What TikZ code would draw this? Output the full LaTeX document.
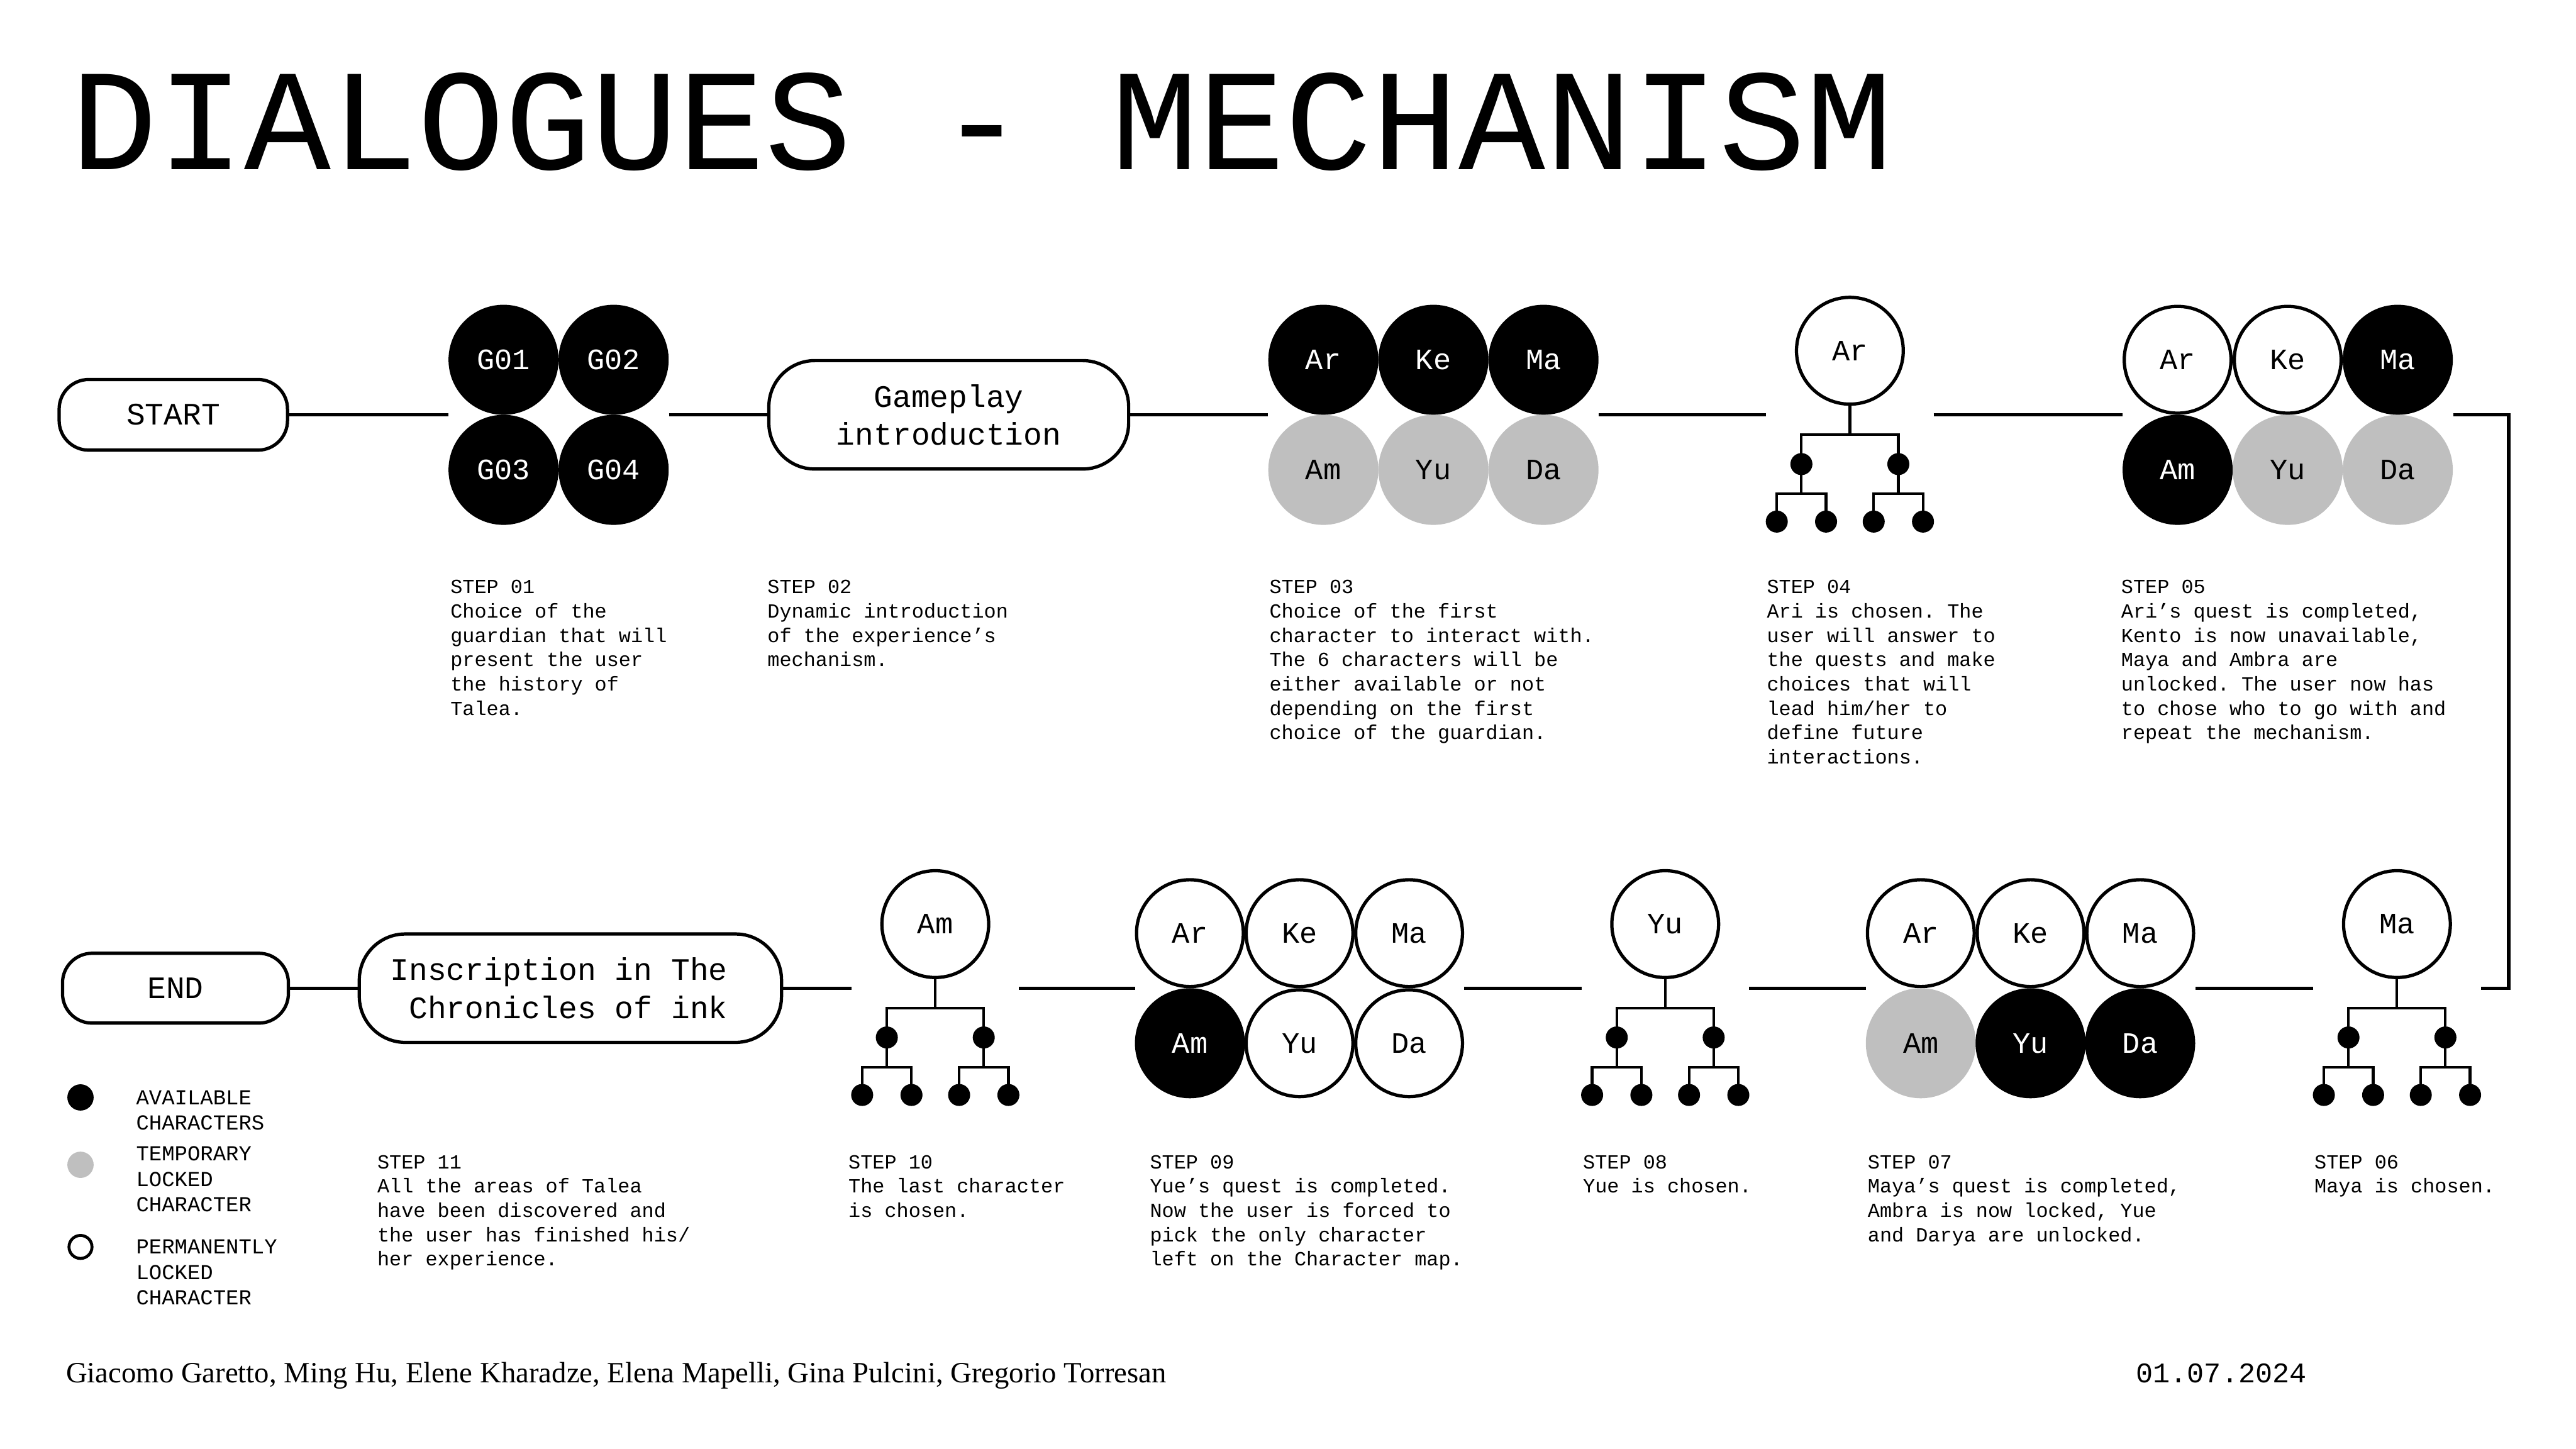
\documentclass[tikz,border=0pt]{standalone}
\usepackage{fontspec}
\setmainfont{Liberation Mono}
\newfontfamily\credfont{Liberation Serif}
\usetikzlibrary{calc}
\frenchspacing
\definecolor{lockgray}{RGB}{191,191,191}
\tikzset{
  conn/.style={line width=2pt,line join=miter},
  twig/.style={line width=1.6pt,line join=miter},
  pill/.style={draw,line width=2pt,align=center,inner sep=0pt,font=\fontsize{19}{23}\selectfont},
  chr/.style={circle,minimum size=67pt,inner sep=0pt,font=\fontsize{18}{18}\selectfont},
  avail/.style={chr,fill=black,text=white},
  temp/.style={chr,fill=lockgray},
  perm/.style={chr,draw,line width=2pt,fill=white,minimum size=65pt},
  steptxt/.style={anchor=north west,align=left,inner sep=0pt,font=\fontsize{12.2}{14.8}\selectfont},
  keytxt/.style={anchor=north west,align=left,inner sep=0pt,font=\fontsize{13}{15.6}\selectfont},
  keydot/.style={circle,inner sep=0pt,minimum size=16pt}
}
\newcommand{\qtree}[3]{%
  \node[perm] (#1) at (#2) {#3};
  \coordinate (#1w) at ($(#1)+(-51,39)$); \coordinate (#1e) at ($(#1)+(51,39)$);
  \draw[twig] (#1.south) -- ++(0,18);
  \draw[twig] ($(#1)+(-29.5,87)$) -- ++(0,-36) -- ++(59,0) -- ++(0,36);
  \foreach \s in {-29.5,29.5}{
    \draw[twig] ($(#1)+(\s-15,104)$) -- ++(0,-17) -- ++(30,0) -- ++(0,17);
    \fill ($(#1)+(\s,69)$) circle (6.7) ($(#1)+(\s-15,104)$) circle (6.7) ($(#1)+(\s+15,104)$) circle (6.7);
  }%
}
\begin{document}
\begin{tikzpicture}[x=1pt,y=-1pt]
  \useasboundingbox (0,0) rectangle (1568,882);
  \node[anchor=base west,inner sep=0pt,font=\fontsize{88}{88}\selectfont] (title) at (43,103) {DIALOGUES - MECHANISM};

  \node[pill,minimum width=139pt,minimum height=43pt,rounded corners=18pt] (start) at (105.5,252.5) {START};
  \node[avail] (g1) at (306.5,219) {G01}; \node[avail] (g2) at (373.5,219) {G02};
  \node[avail] (g3) at (306.5,286) {G03}; \node[avail] (g4) at (373.5,286) {G04};
  \node[pill,minimum width=219pt,minimum height=66pt,rounded corners=28pt] (play) at (577.5,252.5) {Gameplay~\\introduction};
  \node[avail] (ar3) at (805.5,219) {Ar}; \node[avail] (ke3) at (872.5,219) {Ke}; \node[avail] (ma3) at (939.5,219) {Ma};
  \node[temp] (am3) at (805.5,286) {Am}; \node[temp] (yu3) at (872.5,286) {Yu}; \node[temp] (da3) at (939.5,286) {Da};
  \qtree{ari4}{1126,213.5}{Ar}
  \node[perm] (ar5) at (1325.5,219) {Ar}; \node[perm] (ke5) at (1392.5,219) {Ke}; \node[avail] (ma5) at (1459.5,219) {Ma};
  \node[avail] (am5) at (1325.5,286) {Am}; \node[temp] (yu5) at (1392.5,286) {Yu}; \node[temp] (da5) at (1459.5,286) {Da};

  \qtree{ma6}{1459,562.5}{Ma}
  \node[perm] (ar7) at (1169.2,568) {Ar}; \node[perm] (ke7) at (1236,568) {Ke}; \node[perm] (ma7) at (1302.7,568) {Ma};
  \node[temp] (am7) at (1169.2,635) {Am}; \node[avail] (yu7) at (1236,635) {Yu}; \node[avail] (da7) at (1302.7,635) {Da};
  \qtree{yu8}{1013.6,562.5}{Yu}
  \node[perm] (ar9) at (724.3,568) {Ar}; \node[perm] (ke9) at (791,568) {Ke}; \node[perm] (ma9) at (857.7,568) {Ma};
  \node[avail] (am9) at (724.3,635) {Am}; \node[perm] (yu9) at (791,635) {Yu}; \node[perm] (da9) at (857.7,635) {Da};
  \qtree{am10}{569.3,562.5}{Am}
  \node[pill,minimum width=257pt,minimum height=66pt,rounded corners=28pt,align=right] (ink) at (347.2,601.5) {Inscription in The\hspace*{14pt}\\Chronicles of ink\hspace*{14pt}};
  \node[pill,minimum width=137.5pt,minimum height=42.5pt,rounded corners=18pt] (end) at (106.8,601.5) {END};

  \draw[conn] (start.east) -- (start.east -| g1.west);
  \draw[conn] (g2.east |- play.west) -- (play.west);
  \draw[conn] (play.east) -- (play.east -| ar3.west);
  \draw[conn] (ma3.east |- ari4w) -- (ari4w);
  \draw[conn] (ari4e) -- (ari4e -| ar5.west);
  \draw[conn] (ma5.east |- ari4e) -| ($(ma6e)+(17,0)$) -- (ma6e);
  \draw[conn] (ma6w) -- (ma6w -| ma7.east);
  \draw[conn] (ar7.west |- yu8e) -- (yu8e);
  \draw[conn] (yu8w) -- (yu8w -| ma9.east);
  \draw[conn] (ar9.west |- am10e) -- (am10e);
  \draw[conn] (am10w) -- (am10w -| ink.east);
  \draw[conn] (ink.west) -- (end.east);

  \node[steptxt] (st1) at (274,353) {STEP 01\\Choice of the\\guardian that will\\present the user\\the history of\\Talea.};
  \node[steptxt] (st2) at (467,353) {STEP 02\\Dynamic introduction\\of the experience’s\\mechanism.};
  \node[steptxt] (st3) at (772.5,353) {STEP 03\\Choice of the first\\character to interact with.\\The 6 characters will be\\either available or not\\depending on the first\\choice of the guardian.};
  \node[steptxt] (st4) at (1075.3,353) {STEP 04\\Ari is chosen. The\\user will answer to\\the quests and make\\choices that will\\lead him/her to\\define future\\interactions.};
  \node[steptxt] (st5) at (1291,353) {STEP 05\\Ari’s quest is completed,\\Kento is now unavailable,\\Maya and Ambra are\\unlocked. The user now has\\to chose who to go with and\\repeat the mechanism.};
  \node[steptxt] (st6) at (1408.6,703) {STEP 06\\Maya is chosen.};
  \node[steptxt] (st7) at (1136.7,703) {STEP 07\\Maya’s quest is completed,\\Ambra is now locked, Yue\\and Darya are unlocked.};
  \node[steptxt] (st8) at (963.4,703) {STEP 08\\Yue is chosen.};
  \node[steptxt] (st9) at (699.8,703) {STEP 09\\Yue’s quest is completed.\\Now the user is forced to\\pick the only character\\left on the Character map.};
  \node[steptxt] (st10) at (516.3,703) {STEP 10\\The last character\\is chosen.};
  \node[steptxt] (st11) at (229.5,703) {STEP 11\\All the areas of Talea\\have been discovered and\\the user has finished his/\\her experience.};

  \node[keydot,fill=black] (kav) at (49,668) {};
  \node[keydot,fill=lockgray] (ktmp) at (49,709) {};
  \node[keydot,draw,line width=1.8pt,minimum size=14pt] (kprm) at (49,759) {};
  \node[keytxt] (tav) at (82.7,663.5) {AVAILABLE\\CHARACTERS};
  \node[keytxt] (ttmp) at (82.7,697.5) {TEMPORARY\\LOCKED\\CHARACTER};
  \node[keytxt] (tprm) at (82.7,754.3) {PERMANENTLY\\LOCKED\\CHARACTER};

  \node[anchor=base west,inner sep=0pt,font=\credfont\fontsize{17.9}{17.9}\selectfont] (credits) at (40,841.6) {Giacomo Garetto, Ming Hu, Elene Kharadze, Elena Mapelli, Gina Pulcini, Gregorio Torresan};
  \node[anchor=base west,inner sep=0pt,font=\fontsize{17.3}{17.3}\selectfont] (date) at (1300,841.6) {01.07.2024};
\end{tikzpicture}
\end{document}
